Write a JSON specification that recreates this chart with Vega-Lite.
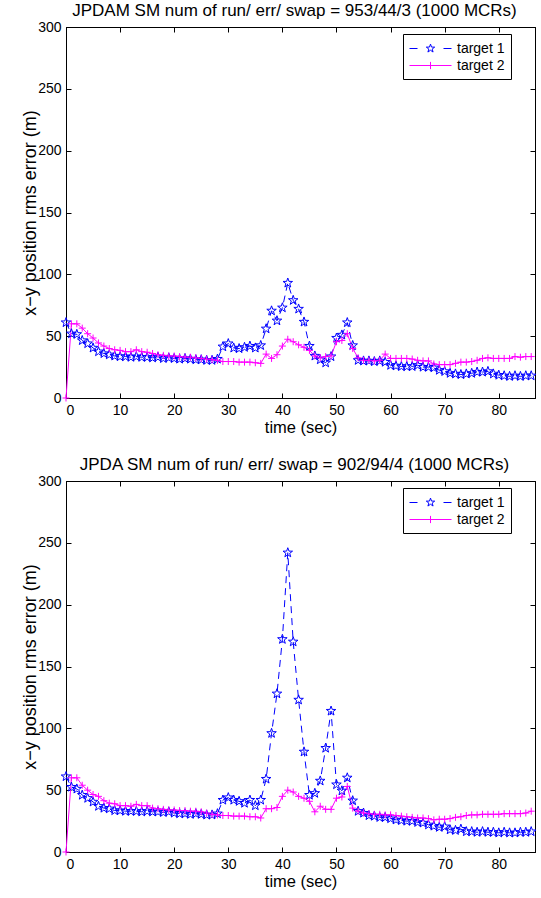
{
  "$schema": "https://vega.github.io/schema/vega-lite/v6.json",
  "padding": {"left": 0, "top": 1, "right": 0, "bottom": 0},
  "background": "white",
  "datasets": {
    "d": [
      {"t":0,"a1":61,"a2":0,"b1":61,"b2":0},
      {"t":1,"a1":52,"a2":60,"b1":52.5,"b2":60},
      {"t":2,"a1":51.5,"a2":60,"b1":51,"b2":60},
      {"t":3,"a1":46.5,"a2":56.5,"b1":46,"b2":54},
      {"t":4,"a1":44,"a2":52,"b1":43.5,"b2":50},
      {"t":5,"a1":40.5,"a2":48.5,"b1":40.5,"b2":46.5},
      {"t":6,"a1":37.5,"a2":44.5,"b1":37,"b2":45},
      {"t":7,"a1":36,"a2":42,"b1":35.5,"b2":41.5},
      {"t":8,"a1":35,"a2":40,"b1":35,"b2":39.5},
      {"t":9,"a1":34,"a2":39,"b1":33.5,"b2":39},
      {"t":10,"a1":33.5,"a2":38.5,"b1":33.5,"b2":37.5},
      {"t":11,"a1":33.5,"a2":37.5,"b1":33,"b2":37.5},
      {"t":12,"a1":33,"a2":37.5,"b1":33,"b2":37},
      {"t":13,"a1":33.5,"a2":39,"b1":33,"b2":38.5},
      {"t":14,"a1":33,"a2":37.5,"b1":32.5,"b2":37.5},
      {"t":15,"a1":33,"a2":37,"b1":33,"b2":37.5},
      {"t":16,"a1":32.5,"a2":36,"b1":32.5,"b2":35.5},
      {"t":17,"a1":33,"a2":35,"b1":32.5,"b2":35},
      {"t":18,"a1":32,"a2":34.5,"b1":32,"b2":34.5},
      {"t":19,"a1":32.5,"a2":34,"b1":32.5,"b2":34},
      {"t":20,"a1":32,"a2":34,"b1":31.5,"b2":34},
      {"t":21,"a1":31.5,"a2":33.5,"b1":31,"b2":33.5},
      {"t":22,"a1":32,"a2":33,"b1":31,"b2":33.5},
      {"t":23,"a1":31.5,"a2":33,"b1":30.5,"b2":33},
      {"t":24,"a1":31,"a2":32.5,"b1":31,"b2":33},
      {"t":25,"a1":31,"a2":32,"b1":30.5,"b2":32.5},
      {"t":26,"a1":30.5,"a2":31.5,"b1":30,"b2":31.5},
      {"t":27,"a1":30.5,"a2":31,"b1":30,"b2":30.5},
      {"t":28,"a1":31.5,"a2":30.5,"b1":31,"b2":30},
      {"t":29,"a1":41.5,"a2":29.5,"b1":42,"b2":29.5},
      {"t":30,"a1":44,"a2":29.5,"b1":44,"b2":29.5},
      {"t":31,"a1":40.5,"a2":29.5,"b1":42,"b2":29},
      {"t":32,"a1":40,"a2":29,"b1":41,"b2":29},
      {"t":33,"a1":41,"a2":29,"b1":39.5,"b2":29},
      {"t":34,"a1":42,"a2":29,"b1":42,"b2":28.5},
      {"t":35,"a1":40.5,"a2":28.5,"b1":37.5,"b2":28.5},
      {"t":36,"a1":42.5,"a2":28,"b1":42,"b2":27.5},
      {"t":37,"a1":56,"a2":35.5,"b1":59,"b2":35},
      {"t":38,"a1":70.5,"a2":32,"b1":96,"b2":35},
      {"t":39,"a1":62.5,"a2":35,"b1":128,"b2":36},
      {"t":40,"a1":73,"a2":42,"b1":172,"b2":45},
      {"t":41,"a1":93,"a2":47.5,"b1":242,"b2":50},
      {"t":42,"a1":79,"a2":45.5,"b1":170,"b2":48.5},
      {"t":43,"a1":72,"a2":43,"b1":123,"b2":45},
      {"t":44,"a1":61.5,"a2":41,"b1":81,"b2":43.5},
      {"t":45,"a1":42,"a2":38.5,"b1":46,"b2":41},
      {"t":46,"a1":34,"a2":34,"b1":47.5,"b2":32.5},
      {"t":47,"a1":31,"a2":32.5,"b1":57.5,"b2":37},
      {"t":48,"a1":28.5,"a2":33.5,"b1":84,"b2":34.5},
      {"t":49,"a1":33.5,"a2":34,"b1":114,"b2":34.5},
      {"t":50,"a1":48.5,"a2":45.5,"b1":54.5,"b2":43.5},
      {"t":51,"a1":51,"a2":46.5,"b1":49.5,"b2":44.5},
      {"t":52,"a1":61,"a2":52,"b1":60,"b2":53},
      {"t":53,"a1":42.5,"a2":40,"b1":41.5,"b2":35.5},
      {"t":54,"a1":30.5,"a2":32.5,"b1":33,"b2":33},
      {"t":55,"a1":30,"a2":30.5,"b1":31.5,"b2":31.5},
      {"t":56,"a1":30,"a2":30.5,"b1":29.5,"b2":31},
      {"t":57,"a1":29.5,"a2":30,"b1":29,"b2":30.5},
      {"t":58,"a1":30,"a2":30.5,"b1":28,"b2":30.5},
      {"t":59,"a1":29,"a2":35.5,"b1":28,"b2":30},
      {"t":60,"a1":26.5,"a2":32,"b1":27,"b2":30},
      {"t":61,"a1":26,"a2":32,"b1":26,"b2":29.5},
      {"t":62,"a1":25.5,"a2":32,"b1":25.5,"b2":29},
      {"t":63,"a1":25.5,"a2":32,"b1":25,"b2":28.5},
      {"t":64,"a1":25.5,"a2":31.5,"b1":25,"b2":28},
      {"t":65,"a1":26.5,"a2":30.5,"b1":24,"b2":27.5},
      {"t":66,"a1":25,"a2":30,"b1":23.5,"b2":27.5},
      {"t":67,"a1":25,"a2":30,"b1":22,"b2":27},
      {"t":68,"a1":24.5,"a2":27.5,"b1":21,"b2":26},
      {"t":69,"a1":22.5,"a2":27,"b1":20,"b2":26.5},
      {"t":70,"a1":21.5,"a2":27,"b1":20.5,"b2":26.5},
      {"t":71,"a1":20,"a2":27,"b1":18,"b2":27},
      {"t":72,"a1":19.5,"a2":28,"b1":17.5,"b2":28},
      {"t":73,"a1":19,"a2":29,"b1":18.5,"b2":28.5},
      {"t":74,"a1":19.5,"a2":29,"b1":16.5,"b2":29.5},
      {"t":75,"a1":20,"a2":29.5,"b1":16.5,"b2":30},
      {"t":76,"a1":21,"a2":30.5,"b1":16,"b2":30},
      {"t":77,"a1":21,"a2":32,"b1":16.5,"b2":30.5},
      {"t":78,"a1":21.5,"a2":32.5,"b1":16,"b2":30.5},
      {"t":79,"a1":19.5,"a2":32,"b1":16,"b2":30.5},
      {"t":80,"a1":18.5,"a2":32,"b1":15.5,"b2":30.5},
      {"t":81,"a1":18,"a2":32,"b1":16,"b2":31},
      {"t":82,"a1":17.5,"a2":32,"b1":15.5,"b2":31},
      {"t":83,"a1":18,"a2":33.5,"b1":15.5,"b2":31},
      {"t":84,"a1":17.5,"a2":33,"b1":16,"b2":31},
      {"t":85,"a1":18,"a2":33.5,"b1":16,"b2":31.5},
      {"t":86,"a1":18,"a2":33.5,"b1":16.5,"b2":33}
    ],
    "series": [
      {"series": "target 1"},
      {"series": "target 2"}
    ]
  },
  "vconcat": [
    {
      "hconcat": [
        {
          "width": 469,
          "height": 371,
          "title": {"text": "JPDAM SM num of run/ err/ swap = 953/44/3 (1000 MCRs)"},
          "layer": [
            {
              "data": {"name": "d"},
              "mark": {"type": "line", "color": "#0000ff", "strokeWidth": 1, "strokeDash": [7, 5]},
              "encoding": {
                "x": {"field": "t", "type": "quantitative", "scale": {"domain": [0, 86.7], "nice": false, "zero": false},
                      "axis": {"values": [0,10,20,30,40,50,60,70,80], "title": "time (sec)"}},
                "y": {"field": "a1", "type": "quantitative", "scale": {"domain": [0, 300], "nice": false},
                      "axis": {"values": [0,50,100,150,200,250,300], "title": "x−y position rms error (m)"}}
              }
            },
            {
              "data": {"name": "d"},
              "mark": {"type": "line", "color": "#ff00ff", "strokeWidth": 1},
              "encoding": {
                "x": {"field": "t", "type": "quantitative",
                      "axis": {"orient": "top", "values": [0,10,20,30,40,50,60,70,80], "labels": false, "title": null}},
                "y": {"field": "a2", "type": "quantitative",
                      "axis": {"orient": "right", "values": [0,50,100,150,200,250,300], "labels": false, "title": null}}
              }
            },
            {
              "data": {"name": "d"},
              "mark": {"type": "point", "shape": "M0,-1L0.235,-0.324L0.951,-0.309L0.380,0.124L0.588,0.809L0,0.4L-0.588,0.809L-0.380,0.124L-0.951,-0.309L-0.235,-0.324Z", "size": 100, "filled": false, "color": "#0000ff", "strokeWidth": 1, "opacity": 1},
              "encoding": {
                "x": {"field": "t", "type": "quantitative", "axis": null},
                "y": {"field": "a1", "type": "quantitative",
                      "axis": {"orient": "left", "offset": 65.5, "domain": true, "domainOpacity": 0, "ticks": false, "labels": false, "title": null}}
              }
            },
            {
              "data": {"name": "d"},
              "mark": {"type": "point", "shape": "M-1,0H1M0,-1V1", "size": 49, "filled": false, "color": "#ff00ff", "strokeWidth": 1, "opacity": 1},
              "encoding": {
                "x": {"field": "t", "type": "quantitative", "axis": null},
                "y": {"field": "a2", "type": "quantitative", "axis": null}
              }
            },
            {
              "data": {"name": "series"},
              "transform": [{"filter": "datum.series == 'none'"}],
              "mark": {"type": "point", "filled": false, "strokeWidth": 1, "opacity": 1},
              "encoding": {
                "color": {"field": "series", "type": "nominal",
                          "scale": {"domain": ["target 1", "target 2"], "range": ["#0000ff", "#ff00ff"]},
                          "legend": {"title": null}},
                "shape": {"field": "series", "type": "nominal",
                          "scale": {"domain": ["target 1", "target 2"], "range": [
                            "M-1,0H0M3.25,0H4.25M1.625,-0.55L1.754,-0.178L2.148,-0.17L1.834,0.068L1.948,0.445L1.625,0.22L1.302,0.445L1.416,0.068L1.102,-0.17L1.496,-0.178Z",
                            "M-1,0H4.25M1.625,-0.45V0.45"]},
                          "legend": {"title": null}}
              }
            }
          ],
          "resolve": {"axis": {"x": "independent", "y": "independent"}}
        }
      ],
      "resolve": {"legend": {"color": "independent", "shape": "independent"}}
    },
    {
      "hconcat": [
        {
          "width": 469,
          "height": 371,
          "title": {"text": "JPDA SM num of run/ err/ swap = 902/94/4 (1000 MCRs)"},
          "layer": [
            {
              "data": {"name": "d"},
              "mark": {"type": "line", "color": "#0000ff", "strokeWidth": 1, "strokeDash": [7, 5]},
              "encoding": {
                "x": {"field": "t", "type": "quantitative", "scale": {"domain": [0, 86.7], "nice": false, "zero": false},
                      "axis": {"values": [0,10,20,30,40,50,60,70,80], "title": "time (sec)"}},
                "y": {"field": "b1", "type": "quantitative", "scale": {"domain": [0, 300], "nice": false},
                      "axis": {"values": [0,50,100,150,200,250,300], "title": "x−y position rms error (m)"}}
              }
            },
            {
              "data": {"name": "d"},
              "mark": {"type": "line", "color": "#ff00ff", "strokeWidth": 1},
              "encoding": {
                "x": {"field": "t", "type": "quantitative",
                      "axis": {"orient": "top", "values": [0,10,20,30,40,50,60,70,80], "labels": false, "title": null}},
                "y": {"field": "b2", "type": "quantitative",
                      "axis": {"orient": "right", "values": [0,50,100,150,200,250,300], "labels": false, "title": null}}
              }
            },
            {
              "data": {"name": "d"},
              "mark": {"type": "point", "shape": "M0,-1L0.235,-0.324L0.951,-0.309L0.380,0.124L0.588,0.809L0,0.4L-0.588,0.809L-0.380,0.124L-0.951,-0.309L-0.235,-0.324Z", "size": 100, "filled": false, "color": "#0000ff", "strokeWidth": 1, "opacity": 1},
              "encoding": {
                "x": {"field": "t", "type": "quantitative", "axis": null},
                "y": {"field": "b1", "type": "quantitative",
                      "axis": {"orient": "left", "offset": 57.5, "domain": true, "domainOpacity": 0, "ticks": false, "labels": false, "title": null}}
              }
            },
            {
              "data": {"name": "d"},
              "mark": {"type": "point", "shape": "M-1,0H1M0,-1V1", "size": 49, "filled": false, "color": "#ff00ff", "strokeWidth": 1, "opacity": 1},
              "encoding": {
                "x": {"field": "t", "type": "quantitative", "axis": null},
                "y": {"field": "b2", "type": "quantitative", "axis": null}
              }
            },
            {
              "data": {"name": "series"},
              "transform": [{"filter": "datum.series == 'none'"}],
              "mark": {"type": "point", "filled": false, "strokeWidth": 1, "opacity": 1},
              "encoding": {
                "color": {"field": "series", "type": "nominal",
                          "scale": {"domain": ["target 1", "target 2"], "range": ["#0000ff", "#ff00ff"]},
                          "legend": {"title": null}},
                "shape": {"field": "series", "type": "nominal",
                          "scale": {"domain": ["target 1", "target 2"], "range": [
                            "M-1,0H0M3.25,0H4.25M1.625,-0.55L1.754,-0.178L2.148,-0.17L1.834,0.068L1.948,0.445L1.625,0.22L1.302,0.445L1.416,0.068L1.102,-0.17L1.496,-0.178Z",
                            "M-1,0H4.25M1.625,-0.45V0.45"]},
                          "legend": {"title": null}}
              }
            }
          ],
          "resolve": {"axis": {"x": "independent", "y": "independent"}}
        }
      ],
      "resolve": {"legend": {"color": "independent", "shape": "independent"}}
    }
  ],
  "spacing": 19,
  "resolve": {"legend": {"color": "independent", "shape": "independent"}},
  "config": {
    "font": "Liberation Sans",
    "view": {"stroke": "black", "strokeWidth": 1},
    "axis": {
      "grid": false,
      "domainColor": "black",
      "domainWidth": 1,
      "tickColor": "black",
      "tickSize": -5,
      "labelPadding": 10,
      "labelColor": "black",
      "labelFontSize": 14,
      "labelFont": "Liberation Sans",
      "titleColor": "black",
      "titleFontSize": 16.5,
      "titleFontWeight": "normal",
      "titleFont": "Liberation Sans"
    },
    "axisX": {"titlePadding": 2},
    "axisY": {"titlePadding": -2, "titleFontSize": 18},
    "title": {"fontSize": 17, "fontWeight": "normal", "font": "Liberation Sans", "color": "black", "offset": 0.1, "dx": -6},
    "legend": {
      "orient": "none",
      "legendX": 337,
      "legendY": 7,
      "strokeColor": "black",
      "fillColor": "white",
      "padding": 6,
      "labelOffset": 31,
      "labelFontSize": 14,
      "labelFont": "Liberation Sans",
      "labelColor": "black",
      "symbolSize": 256,
      "symbolStrokeWidth": 1,
      "rowPadding": 1
    }
  }
}
